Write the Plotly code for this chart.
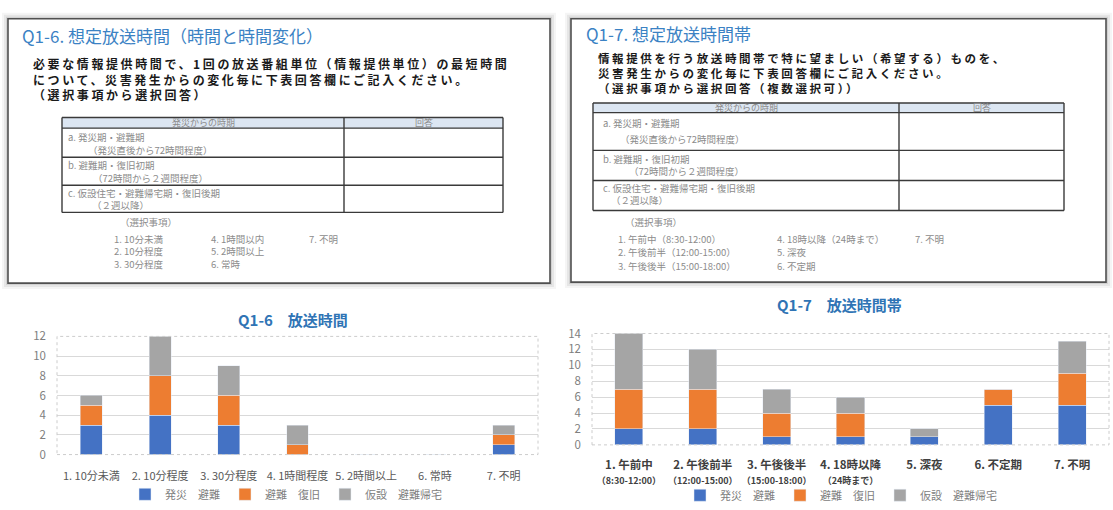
import plotly.graph_objects as go

W, H = 1113, 510
FONT = "Noto Sans CJK JP, Noto Sans, sans-serif"


def px(x):
    return x / W


def py(y):
    return 1 - y / H


# ---- chart data -------------------------------------------------------
series_names = ["発災　避難", "避難　復旧", "仮設　避難帰宅"]
series_colors = ["#4472C4", "#ED7D31", "#A5A5A5"]

q16_categories = ["1. 10分未満", "2. 10分程度", "3. 30分程度", "4. 1時間程度",
                  "5. 2時間以上", "6. 常時", "7. 不明"]
q16_hassai = [3, 4, 3, 0, 0, 0, 1]
q16_hinan = [2, 4, 3, 1, 0, 0, 1]
q16_kasetsu = [1, 4, 3, 2, 0, 0, 1]

SMALL = "<span style='font-size:9px'>"
q17_categories = [
    "1. 午前中<br>" + SMALL + "（8:30-12:00）</span>",
    "2. 午後前半<br>" + SMALL + "（12:00-15:00）</span>",
    "3. 午後後半<br>" + SMALL + "（15:00-18:00）</span>",
    "4. 18時以降<br>" + SMALL + "（24時まで）</span>",
    "5. 深夜",
    "6. 不定期",
    "7. 不明",
]
q17_hassai = [2, 2, 1, 1, 1, 5, 5]
q17_hinan = [5, 5, 3, 3, 0, 2, 4]
q17_kasetsu = [7, 5, 3, 2, 1, 0, 4]

# ---- survey question panels (text) ---------------------------------------
q16_title = "Q1-6. 想定放送時間（時間と時間変化）"
q16_body = ["必要な情報提供時間で、1回の放送番組単位（情報提供単位）の最短時間",
            "について、災害発生からの変化毎に下表回答欄にご記入ください。",
            "（選択事項から選択回答）"]
q17_title = "Q1-7. 想定放送時間帯"
q17_body = ["情報提供を行う放送時間帯で特に望ましい（希望する）ものを、",
            "災害発生からの変化毎に下表回答欄にご記入ください。",
            "（選択事項から選択回答（複数選択可））"]
table_header = ["発災からの時期", "回答"]
table_rows = [("a. 発災期・避難期", "（発災直後から72時間程度）"),
              ("b. 避難期・復旧初期", "（72時間から２週間程度）"),
              ("c. 仮設住宅・避難帰宅期・復旧後期", "（２週以降）")]
q16_options = [["1. 10分未満", "2. 10分程度", "3. 30分程度"],
               ["4. 1時間以内", "5. 2時間以上", "6. 常時"],
               ["7. 不明"]]
q17_options = [["1. 午前中（8:30-12:00）", "2. 午後前半（12:00-15:00）", "3. 午後後半（15:00-18:00）"],
               ["4. 18時以降（24時まで）", "5. 深夜", "6. 不定期"],
               ["7. 不明"]]

fig = go.Figure()

for name, color, vals in zip(series_names, series_colors, [q16_hassai, q16_hinan, q16_kasetsu]):
    fig.add_trace(go.Bar(x=q16_categories, y=vals, name=name, marker_color=color,
                         width=0.32, xaxis="x", yaxis="y", legend="legend"))
for name, color, vals in zip(series_names, series_colors, [q17_hassai, q17_hinan, q17_kasetsu]):
    fig.add_trace(go.Bar(x=q17_categories, y=vals, name=name, marker_color=color,
                         width=0.38, xaxis="x2", yaxis="y2", legend="legend2"))

shapes = []
annotations = []


def panel(x0, y0, x1, y1):
    for d, a in [(6, 0.04), (4, 0.06), (2, 0.09)]:
        shapes.append(dict(type="rect", xref="paper", yref="paper",
                           x0=px(x0 - d), x1=px(x1 + d), y0=py(y1 + d), y1=py(y0 - d),
                           fillcolor=f"rgba(0,0,0,{a})", line=dict(width=0)))
    shapes.append(dict(type="rect", xref="paper", yref="paper",
                       x0=px(x0), x1=px(x1), y0=py(y1), y1=py(y0),
                       fillcolor="white", line=dict(color="#505050", width=1.6)))


def text(x, y, s, size, color, anchor="left", bold=False):
    annotations.append(dict(x=px(x), y=py(y), xref="paper", yref="paper", text=s,
                            showarrow=False, xanchor=anchor, yanchor="middle", align="left",
                            font=dict(family=FONT, size=size, color=color,
                                      weight="bold" if bold else "normal")))


def spaced_block(lines, spacing):
    return "<br>".join(f"<span style='letter-spacing:{spacing}px'>{s}</span>" for s in lines)


def table(x0, x1, xdiv, ys, line_y, first_x, second_x):
    # header band
    shapes.append(dict(type="rect", xref="paper", yref="paper",
                       x0=px(x0), x1=px(x1), y0=py(ys[1]), y1=py(ys[0]),
                       fillcolor="#dce6f2", line=dict(width=0)))
    for y in ys:
        shapes.append(dict(type="line", xref="paper", yref="paper",
                           x0=px(x0), x1=px(x1), y0=py(y), y1=py(y),
                           line=dict(color="#3a3a3a", width=1.4)))
    for x in (x0, xdiv, x1):
        shapes.append(dict(type="line", xref="paper", yref="paper",
                           x0=px(x), x1=px(x), y0=py(ys[-1]), y1=py(ys[0]),
                           line=dict(color="#3a3a3a", width=1.4)))
    hy = (ys[0] + ys[1]) / 2
    text((x0 + xdiv) / 2, hy, table_header[0], 9, "#8c8c8c", "center")
    text((xdiv + x1) / 2, hy, table_header[1], 9, "#8c8c8c", "center")
    for (a, b), (l1, l2), sx in zip(table_rows, line_y, second_x):
        text(first_x, l1, a, 9.5, "#8c8c8c")
        text(sx, l2, b, 9.5, "#8c8c8c")


# left panel: Q1-6
panel(8, 10, 550, 283)
text(20, 27, q16_title, 17, "#3b82c4")
text(31, 72, spaced_block(q16_body, 2.6), 12, "#1a1a1a", bold=True)
table(62, 503, 344, [112, 123, 153, 182, 210],
      [(132, 146), (161, 174), (190, 202)], 66, [86, 91, 90])
text(118, 220, "（選択事項）", 9.5, "#8c8c8c")
for col, cx in zip(q16_options, [112, 209, 307]):
    for s, y in zip(col, [237, 250, 263]):
        text(cx, y, s, 9.5, "#8c8c8c")

# right panel: Q1-7
panel(571, 10, 1106, 282)
text(584, 25, q17_title, 17, "#3b82c4")
text(596, 66, spaced_block(q17_body, 2.6), 11.5, "#1a1a1a", bold=True)
table(593, 1064, 899, [97, 107, 146, 177, 208],
      [(118, 134), (155, 167), (185, 197)], 601, [618, 627, 609])
text(623, 220, "（選択事項）", 9.5, "#8c8c8c")
for col, cx in zip(q17_options, [616, 775, 913]):
    for s, y in zip(col, [237, 251, 265]):
        text(cx, y, s, 9.5, "#8c8c8c")

# chart titles
text(293, 321, "Q1-6　放送時間", 15, "#2f74b5", "center", bold=True)
text(839, 305, "Q1-7　放送時間帯", 15, "#2f74b5", "center", bold=True)

# dotted plot-area outlines
for xr, yr in [("x domain", "y domain"), ("x2 domain", "y2 domain")]:
    shapes.append(dict(type="rect", xref=xr, yref=yr, x0=0, x1=1, y0=0, y1=1,
                       line=dict(color="#cccccc", width=1, dash="dot")))

tick_gray = "#808080"
axis_common = dict(showgrid=False, showline=False, zeroline=False, ticks="",
                   range=[-0.5, 6.5], fixedrange=True)
yaxis_common = dict(showgrid=True, gridcolor="#d9d9d9", gridwidth=1, zeroline=False,
                    showline=False, ticks="", dtick=2, ticklabelstandoff=10,
                    tickfont=dict(family=FONT, size=11.5, color=tick_gray))
legend_common = dict(orientation="h", xanchor="center", yanchor="middle",
                     traceorder="normal", itemwidth=30, bgcolor="rgba(0,0,0,0)",
                     font=dict(family=FONT, size=11, color=tick_gray))

fig.update_layout(
    width=W, height=H, autosize=False,
    margin=dict(l=0, r=0, t=0, b=0),
    paper_bgcolor="white", plot_bgcolor="white",
    barmode="stack",
    font=dict(family=FONT),
    xaxis=dict(domain=[px(57), px(538)], anchor="y",
               tickfont=dict(family=FONT, size=11, color="#595959"),
               ticklabelstandoff=13, **axis_common),
    yaxis=dict(domain=[py(460), py(338)], anchor="x", range=[0, 12], **yaxis_common),
    xaxis2=dict(domain=[px(592), px(1109)], anchor="y2",
                tickfont=dict(family=FONT, size=11.5, color="#404040", weight="bold"),
                ticklabelstandoff=12, **axis_common),
    yaxis2=dict(domain=[py(450), py(335)], anchor="x2", range=[0, 14], **yaxis_common),
    legend=dict(x=px(286), y=py(501), **legend_common),
    legend2=dict(x=px(841), y=py(502), **legend_common),
    shapes=shapes,
    annotations=annotations,
)

fig.write_html("out.html")
